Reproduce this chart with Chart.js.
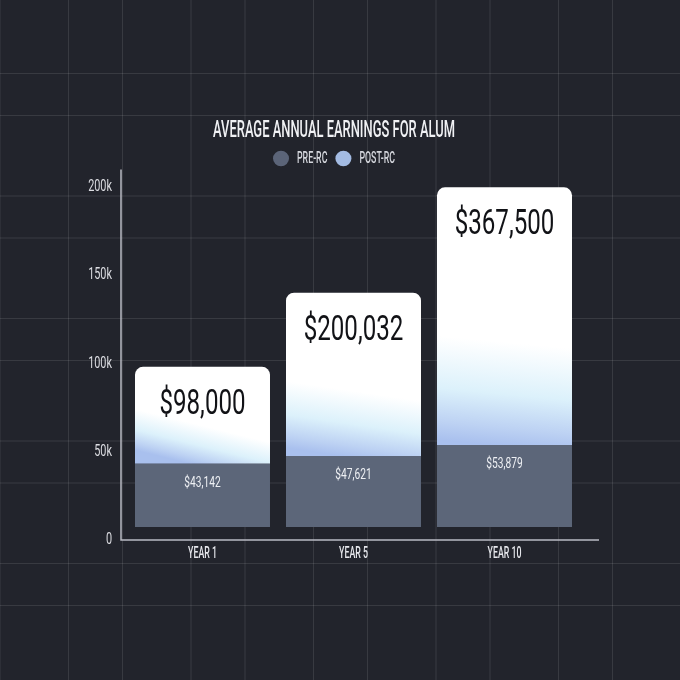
<!DOCTYPE html>
<html>
<head>
<meta charset="utf-8">
<script src="https://cdn.jsdelivr.net/npm/chart.js@4.4.1/dist/chart.umd.min.js"></script>
<style>
  html, body {
    margin: 0;
    width: 680px;
    height: 680px;
  }
  body {
    background-color: #22242c;
    background-image:
      linear-gradient(to right, rgba(255,255,255,0.1) 1px, transparent 1px),
      linear-gradient(to right, rgba(255,255,255,0.1) 1px, transparent 1px),
      linear-gradient(to bottom, rgba(255,255,255,0.1) 1px, transparent 1px),
      linear-gradient(to bottom, rgba(255,255,255,0.1) 1px, transparent 1px);
    background-size: 122.5px 100%, 122.5px 100%, 100% 122.5px, 100% 122.5px;
    background-position: 122px 0, 68px 0, 0 73px, 0 115px;
  }
  canvas { display: block; }
</style>
</head>
<body>
<canvas id="chart" width="680" height="680"></canvas>
<script>
// chart data
const categories = ['YEAR 1', 'YEAR 5', 'YEAR 10'];
const preRC = [43142, 47621, 53879];
const postRC = [55000, 92500, 146000];      // height of the POST-RC part as drawn
const postLabels = [98000, 200032, 367500]; // figure printed on the POST-RC part
const yTicks = [0, 50000, 100000, 150000, 200000];
const seriesNames = ['PRE-RC', 'POST-RC'];
const legendColors = ['#5b6478', '#a3bbe3'];

const FONT = "Roboto, 'Liberation Sans', sans-serif";

// the source uses a tall condensed face; squeeze the text horizontally to match
const canvas = document.getElementById('chart');
const ctx = canvas.getContext('2d');
const squeezeOf = text => /[A-Z]/.test(String(text)) ? 0.55 : 0.68;
const rawFill = ctx.fillText.bind(ctx);
const rawMeasure = ctx.measureText.bind(ctx);
ctx.fillText = function(text, x, y, maxWidth) {
  const s = squeezeOf(text);
  ctx.save();
  ctx.translate(x, y);
  ctx.scale(s, 1);
  if (maxWidth !== undefined) {
    rawFill(text, 0, 0, maxWidth / s);
  } else {
    rawFill(text, 0, 0);
  }
  ctx.restore();
};
ctx.measureText = function(text) {
  const m = rawMeasure(text);
  return {
    width: m.width * squeezeOf(text),
    actualBoundingBoxAscent: m.actualBoundingBoxAscent,
    actualBoundingBoxDescent: m.actualBoundingBoxDescent
  };
};

const money = v => '$' + v.toLocaleString('en-US');

// white-to-blue fill for each POST-RC bar
function postGradient(context) {
  const chart = context.chart;
  const y = chart.scales.y;
  const x = chart.scales.x;
  if (!chart.chartArea || !y || !x || context.dataIndex === undefined) {
    return '#ffffff';
  }
  const i = context.dataIndex;
  const top = y.getPixelForValue(preRC[i] + postRC[i]);
  const bottom = y.getPixelForValue(preRC[i]);
  const cx = x.getPixelForValue(i);
  const g = chart.ctx.createLinearGradient(cx + 12, top, cx - 12, bottom);
  g.addColorStop(0, '#ffffff');
  g.addColorStop(0.6, '#ffffff');
  g.addColorStop(0.8, '#dcf1fb');
  g.addColorStop(0.93, '#bdd2f3');
  g.addColorStop(1, '#a9c0ee');
  return g;
}

// axis lines, a little longer than the plot area
const axisLines = {
  id: 'axisLines',
  beforeDatasetsDraw(chart) {
    const {ctx, chartArea} = chart;
    ctx.save();
    ctx.strokeStyle = '#b9bbc3';
    ctx.lineWidth = 1.5;
    ctx.beginPath();
    ctx.moveTo(chartArea.left - 6, chartArea.top - 7);
    ctx.lineTo(chartArea.left - 6, chartArea.bottom);
    ctx.lineTo(chartArea.right + 19, chartArea.bottom);
    ctx.stroke();
    ctx.restore();
  }
};

// value figures printed inside the bars
const barValues = {
  id: 'barValues',
  afterDatasetsDraw(chart) {
    const {ctx} = chart;
    const pre = chart.getDatasetMeta(0).data;
    const post = chart.getDatasetMeta(1).data;
    ctx.save();
    ctx.textAlign = 'center';
    ctx.textBaseline = 'middle';
    post.forEach((bar, i) => {
      ctx.font = '35.5px ' + FONT;
      ctx.fillStyle = '#111216';
      ctx.fillText(money(postLabels[i]), bar.x, bar.y + 38);
    });
    pre.forEach((bar, i) => {
      ctx.font = '15px ' + FONT;
      ctx.fillStyle = '#eef0f4';
      ctx.fillText(money(preRC[i]), bar.x, bar.y + 19);
    });
    ctx.restore();
  }
};

new Chart(ctx, {
  type: 'bar',
  data: {
    labels: categories,
    datasets: [
      {
        label: seriesNames[0],
        data: preRC,
        backgroundColor: '#5c6679',
        base: 7300,
        borderRadius: 0
      },
      {
        label: seriesNames[1],
        data: postRC,
        backgroundColor: postGradient,
        borderRadius: {topLeft: 8, topRight: 8, bottomLeft: 0, bottomRight: 0},
        borderSkipped: 'start'
      }
    ]
  },
  options: {
    responsive: false,
    animation: false,
    layout: {
      padding: {top: 119, left: 88, right: 100, bottom: 110}
    },
    datasets: {
      bar: {
        categoryPercentage: 0.894,
        barPercentage: 1
      }
    },
    scales: {
      x: {
        stacked: true,
        grid: {display: false, drawTicks: false},
        border: {display: false},
        ticks: {
          color: '#e6e7ec',
          padding: 4,
          font: {family: FONT, size: 16, weight: '500'}
        },
        afterFit: scale => { scale.height = 30; }
      },
      y: {
        stacked: true,
        min: 0,
        max: 206000,
        grid: {display: false, drawTicks: false},
        border: {display: false},
        afterBuildTicks: scale => {
          scale.ticks = yTicks.map(v => ({value: v}));
        },
        ticks: {
          color: '#dcdde2',
          padding: 15,
          font: {family: FONT, size: 16},
          callback: v => v === 0 ? '0' : (v / 1000) + 'k'
        },
        afterFit: scale => { scale.width = 39; }
      }
    },
    plugins: {
      title: {
        display: true,
        text: 'AVERAGE ANNUAL EARNINGS FOR ALUM',
        color: '#f0f1f4',
        padding: 0,
        font: {family: FONT, size: 23.5, weight: '500', lineHeight: 1}
      },
      legend: {
        display: true,
        labels: {
          color: '#d4d6dc',
          usePointStyle: true,
          pointStyle: 'circle',
          pointStyleWidth: 16,
          boxHeight: 11,
          padding: 8,
          font: {family: FONT, size: 16, weight: '500'},
          generateLabels: chart =>
            Chart.defaults.plugins.legend.labels.generateLabels(chart).map((item, i) => ({
              ...item,
              fillStyle: legendColors[i],
              strokeStyle: legendColors[i],
              lineWidth: 0
            }))
        }
      },
      tooltip: {enabled: false}
    }
  },
  plugins: [axisLines, barValues]
});
</script>
</body>
</html>
